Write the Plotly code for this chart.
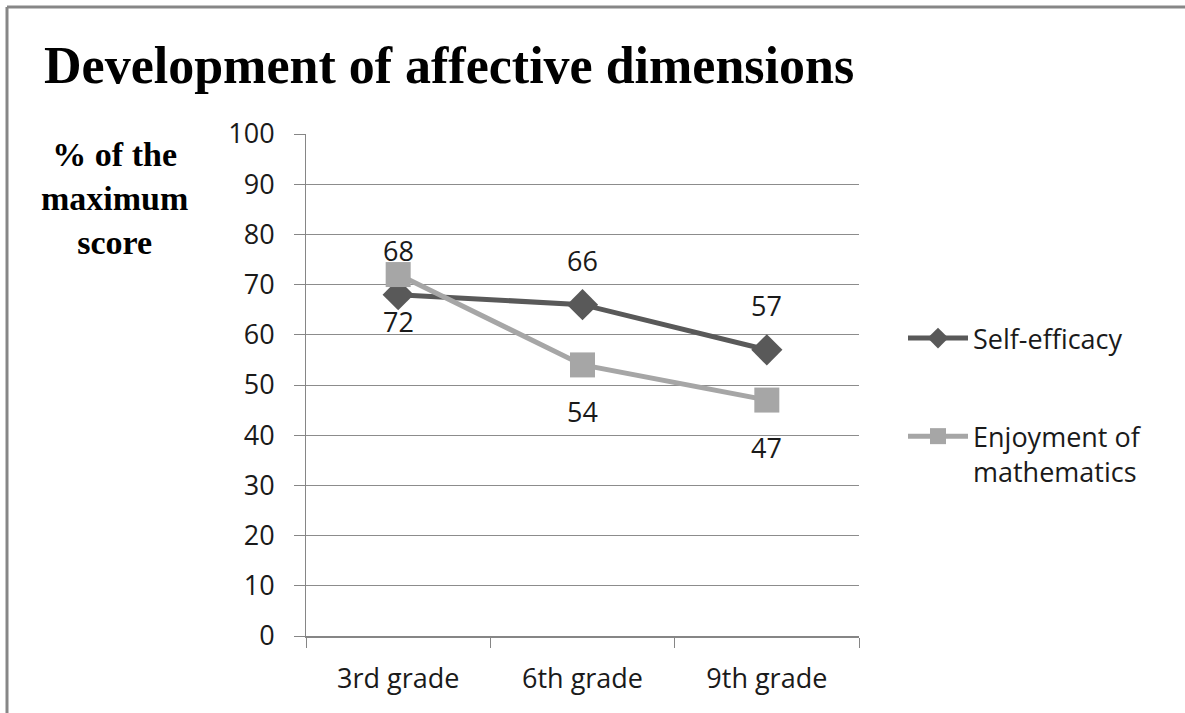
import plotly.graph_objects as go

# chart data
grades = ["3rd grade", "6th grade", "9th grade"]
self_efficacy = [68, 66, 57]
enjoyment = [72, 54, 47]
y_ticks = [0, 10, 20, 30, 40, 50, 60, 70, 80, 90, 100]

W, H = 1185, 713
L, R, T, B = 306, 326, 134, 77
PW, PH = W - L - R, H - T - B


def px_x(px):
    return (px - L) / PW


def px_y(py):
    return (H - B - py) / PH


tick_font = dict(family="'Open Sans', Lato, sans-serif", size=27, color="#1a1a1a")
serif = "'Liberation Serif', 'Times New Roman', serif"

fig = go.Figure()

fig.add_trace(go.Scatter(
    x=grades, y=self_efficacy, name="Self-efficacy",
    legendgroup="se", mode="lines+markers",
    line=dict(color="#595959", width=5),
    marker=dict(symbol="diamond", size=24, color="#595959"),
))
fig.add_trace(go.Scatter(
    x=grades, y=enjoyment, name="Enjoyment of<br>mathematics",
    legendgroup="en", mode="lines+markers",
    line=dict(color="#a6a6a6", width=5),
    marker=dict(symbol="square", size=25, color="#a6a6a6"),
))

# data labels: self-efficacy above, enjoyment below
annotations = []
for g, v in zip(grades, self_efficacy):
    annotations.append(dict(x=g, y=v, xref="x", yref="y", text=str(v),
                            showarrow=False, yshift=44, font=tick_font))
for g, v in zip(grades, enjoyment):
    annotations.append(dict(x=g, y=v, xref="x", yref="y", text=str(v),
                            showarrow=False, yshift=-47, font=tick_font))

annotations.append(dict(
    x=px_x(42), y=px_y(66), xref="paper", yref="paper",
    xanchor="left", yanchor="middle", showarrow=False,
    text="<b>Development of affective dimensions</b>",
    font=dict(family=serif, size=52, color="black"),
))
annotations.append(dict(
    x=px_x(114), y=px_y(198), xref="paper", yref="paper",
    xanchor="center", yanchor="middle", showarrow=False, align="center",
    text="<b>% of the<br>maximum<br>score</b>",
    font=dict(family=serif, size=34, color="black"),
))

fig.update_layout(
    width=W, height=H,
    margin=dict(l=L, r=R, t=T, b=B),
    paper_bgcolor="white", plot_bgcolor="white",
    showlegend=True,
    legend=dict(
        x=px_x(903), y=px_y(314), xanchor="left", yanchor="top",
        font=tick_font, tracegroupgap=60, itemwidth=60, valign="top",
        bgcolor="rgba(0,0,0,0)",
    ),
    annotations=annotations,
    xaxis=dict(
        type="category", tickson="boundaries", range=[-0.5, 2.5],
        showline=True, linecolor="#868686", linewidth=2,
        ticks="outside", ticklen=10, tickcolor="#868686", tickwidth=1,
        showgrid=False, tickfont=tick_font, ticklabelstandoff=18,
    ),
    yaxis=dict(
        range=[0, 100], tickvals=y_ticks,
        showline=True, linecolor="#868686", linewidth=1,
        ticks="outside", ticklen=11, tickcolor="#868686",
        showgrid=True, gridcolor="#8c8c8c", gridwidth=1,
        zeroline=False, tickfont=tick_font, ticklabelstandoff=14,
    ),
    shapes=[
        # outer frame (top and left edges visible)
        dict(type="line", xref="paper", yref="paper",
             x0=px_x(7), x1=px_x(1190), y0=px_y(7), y1=px_y(7),
             line=dict(color="#878787", width=3)),
        dict(type="line", xref="paper", yref="paper",
             x0=px_x(7), x1=px_x(7), y0=px_y(7), y1=px_y(720),
             line=dict(color="#878787", width=3)),
    ],
)

# drop the browser's default body margin so the figure sits at (0, 0)
fig.write_html("out.html", config={"displayModeBar": False},
               post_script="document.body.style.margin='0';")
